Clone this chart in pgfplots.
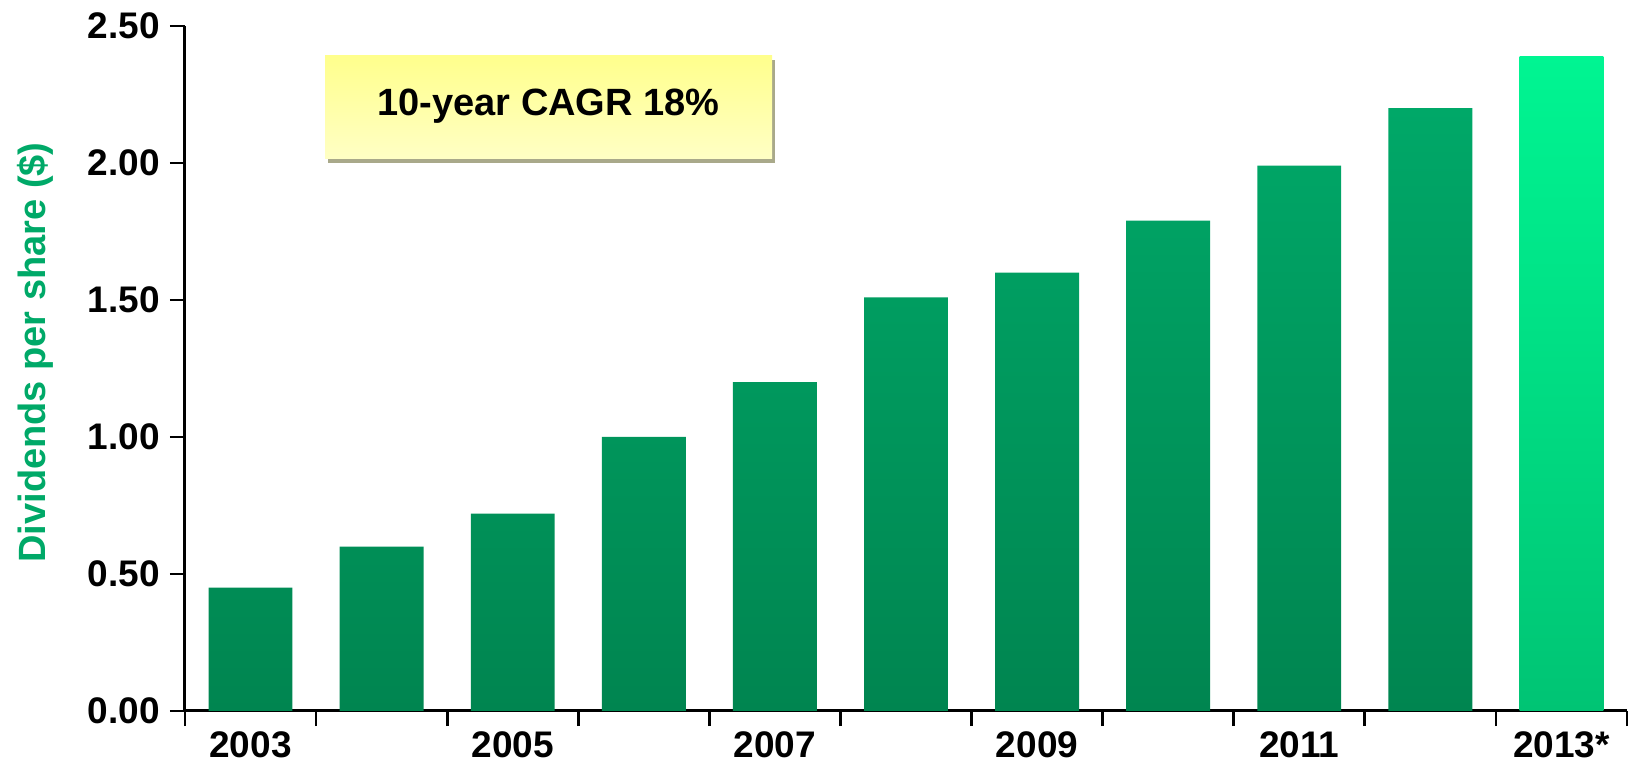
\documentclass[border=0pt]{standalone}
\usepackage{fontspec}
\setmainfont{Liberation Sans}
\usepackage{pgfplots}
\pgfplotsset{compat=1.18}
\definecolor{barTop}{HTML}{00A868}
\definecolor{barBot}{HTML}{008550}
\definecolor{lastTop}{HTML}{00F592}
\definecolor{lastBot}{HTML}{00C474}
\definecolor{lblGreen}{HTML}{00A968}
\definecolor{boxTop}{HTML}{FFFF8C}
\definecolor{boxBot}{HTML}{FFFFC4}
\definecolor{boxShadow}{HTML}{A9A98A}
\begin{document}
\begin{tikzpicture}
\begin{axis}[
  name=ax,
  scale only axis,
  width=721pt, height=342.5pt,
  xmin=-0.5, xmax=10.5, ymin=0, ymax=2.5,
  axis x line*=bottom, axis y line*=left,
  axis line style={line width=1.5pt, black},
  tick style={line width=1.4pt, black},
  tick align=outside,
  major tick length=7.5pt,
  xtick={-0.5,0.5,1.5,2.5,3.5,4.5,5.5,6.5,7.5,8.5,9.5,10.5},
  xticklabels={2003,,2005,,2007,,2009,,2011,,2013*,},
  xticklabel style={xshift=32.75pt, yshift=0.5pt},
  ytick={0,0.5,1,1.5,2,2.5},
  y tick label style={xshift=-1.5pt, /pgf/number format/.cd, fixed, fixed zerofill, precision=2, /tikz/.cd},
  /pgf/number format/assume math mode=true,
  ticklabel style={font=\fontsize{18.5}{21}\selectfont\bfseries},
  ylabel={Dividends per share (\$)},
  every axis y label/.style={at={(axis description cs:0,0.5)}, xshift=-75pt, yshift=8pt, rotate=90, anchor=center, font=\fontsize{19}{22}\selectfont\bfseries, text=lblGreen},
  clip=false,
]
\addplot[ybar, bar width=0.64, bar shift=0pt, draw=none, top color=barTop, bottom color=barBot]
  coordinates {(0,0.45) (1,0.60) (2,0.72) (3,1.00) (4,1.20) (5,1.51) (6,1.60) (7,1.79) (8,1.99) (9,2.20)};
\addplot[ybar, bar width=0.64, bar shift=0pt, draw=none, top color=lastTop, bottom color=lastBot]
  coordinates {(10,2.39)};
\fill[boxShadow] ([xshift=1.5pt,yshift=-2.5pt]axis cs:0.568,2.018) rectangle ([xshift=1.5pt,yshift=-2.5pt]axis cs:3.978,2.394);
\shade[top color=boxTop, bottom color=boxBot] (axis cs:0.568,2.018) rectangle (axis cs:3.978,2.394);
\node[font=\fontsize{19}{22}\selectfont\bfseries, anchor=center] at (axis cs:2.273,2.206) {10-year CAGR 18\%};
\end{axis}
\pgfresetboundingbox
\path (ax.south west) ++(-92.5pt,-27.5pt) rectangle ++(815pt,383pt);
\end{tikzpicture}
\end{document}
